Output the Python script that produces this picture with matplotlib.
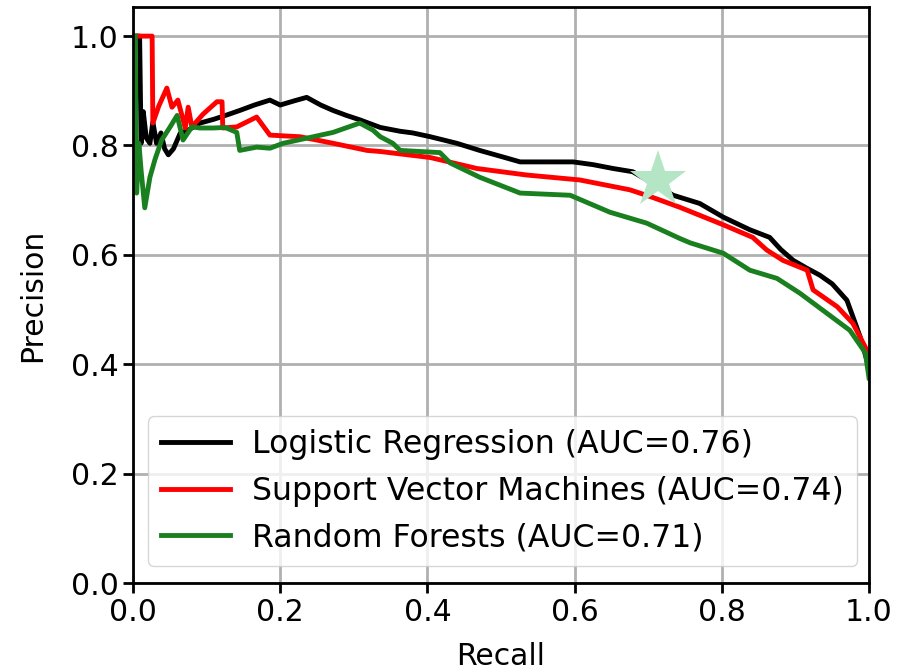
import numpy as np
import matplotlib
matplotlib.use('Agg')
import matplotlib.pyplot as plt

# Precision-recall points
lr_recall = [0.003, 0.009, 0.011, 0.014, 0.018, 0.023, 0.027, 0.032, 0.038, 0.043, 0.048, 0.055,
             0.064, 0.075, 0.091, 0.11, 0.13, 0.145, 0.165, 0.186, 0.2, 0.22, 0.236, 0.255, 0.272,
             0.29, 0.308, 0.336, 0.363, 0.38, 0.404, 0.44, 0.471, 0.5, 0.526, 0.56, 0.598, 0.625,
             0.652, 0.679, 0.71, 0.734, 0.77, 0.802, 0.838, 0.865, 0.88, 0.897, 0.915, 0.933, 0.95,
             0.970, 0.980, 0.988, 0.997, 1.0]
lr_precision = [1.0, 1.0, 0.804, 0.862, 0.814, 0.804, 0.843, 0.804, 0.823, 0.794, 0.783, 0.794,
                0.822, 0.828, 0.841, 0.848, 0.857, 0.864, 0.874, 0.883, 0.874, 0.882, 0.888, 0.874, 0.864,
                0.855, 0.847, 0.833, 0.826, 0.823, 0.816, 0.804, 0.791, 0.780, 0.770, 0.770, 0.770, 0.765,
                0.758, 0.752, 0.728, 0.709, 0.694, 0.669, 0.646, 0.632, 0.610, 0.590, 0.576, 0.563, 0.547,
                0.517, 0.480, 0.450, 0.408, 0.39]

svm_recall = [0.003, 0.026, 0.027, 0.035, 0.046, 0.053, 0.061, 0.071, 0.075, 0.080, 0.095, 0.114,
              0.121, 0.122, 0.141, 0.168, 0.186, 0.227, 0.272, 0.318, 0.336, 0.404, 0.467, 0.535,
              0.607, 0.675, 0.702, 0.743, 0.802, 0.842, 0.861, 0.883, 0.916, 0.924, 0.957, 0.978,
              0.997, 1.0]
svm_precision = [1.0, 1.0, 0.841, 0.872, 0.905, 0.870, 0.883, 0.832, 0.870, 0.834, 0.857, 0.880,
                 0.880, 0.832, 0.834, 0.852, 0.819, 0.816, 0.804, 0.791, 0.789, 0.778, 0.758, 0.746,
                 0.737, 0.719, 0.707, 0.687, 0.655, 0.632, 0.609, 0.590, 0.572, 0.536, 0.505, 0.475,
                 0.426, 0.395]

rf_recall = [0.003, 0.005, 0.008, 0.011, 0.016, 0.023, 0.03, 0.039, 0.05, 0.060, 0.068, 0.080,
             0.091, 0.109, 0.125, 0.141, 0.145, 0.168, 0.186, 0.204, 0.245, 0.272, 0.308, 0.326,
             0.336, 0.353, 0.363, 0.417, 0.431, 0.471, 0.526, 0.594, 0.648, 0.698, 0.743, 0.757,
             0.802, 0.838, 0.875, 0.906, 0.943, 0.974, 0.995, 1.0]
rf_precision = [1.0, 0.713, 0.804, 0.755, 0.686, 0.742, 0.775, 0.810, 0.833, 0.855, 0.810, 0.834,
                0.832, 0.832, 0.833, 0.824, 0.791, 0.797, 0.795, 0.804, 0.816, 0.824, 0.841, 0.828,
                0.816, 0.804, 0.791, 0.787, 0.768, 0.742, 0.713, 0.709, 0.678, 0.658, 0.630, 0.622,
                0.603, 0.572, 0.557, 0.530, 0.493, 0.462, 0.421, 0.375]

labels = ["Logistic Regression (AUC=0.76)",
          "Support Vector Machines (AUC=0.74)",
          "Random Forests (AUC=0.71)"]

# operating point marked with a star
star_recall, star_precision = 0.713, 0.736

fig = plt.figure(figsize=(9.09, 6.72), dpi=100)
ax = fig.add_axes([0.1463, 0.1324, 0.8097, 0.857])

ax.plot(lr_recall, lr_precision, color="black", lw=3.5, label=labels[0])
ax.plot(svm_recall, svm_precision, color="red", lw=3.5, label=labels[1])
ax.plot(rf_recall, rf_precision, color="#1a801f", lw=3.5, label=labels[2])
ax.plot([star_recall], [star_precision], marker="*", ms=43, color="#b4e6c6",
        markeredgewidth=0, linestyle="none", zorder=5)

ax.set_xlim(0, 1)
ax.set_ylim(0, 1.053)
ax.set_xticks(np.arange(0, 1.01, 0.2))
ax.set_yticks(np.arange(0, 1.01, 0.2))
ax.grid(color="#b0b0b0", lw=2)
ax.set_axisbelow(True)
for s in ax.spines.values():
    s.set_linewidth(2)
ax.tick_params(labelsize=21.5, width=2, length=7)
ax.set_xlabel("Recall", fontsize=21.5, labelpad=11)
ax.set_ylabel("Precision", fontsize=21.5, labelpad=17)

ax.legend(loc="lower left", bbox_to_anchor=(0.0204, 0.0295), borderaxespad=0,
          fontsize=22.7, framealpha=0.8, handlelength=2.2, labelspacing=0.49,
          borderpad=0.41, handletextpad=0.7)

fig.savefig("out.png", dpi=100)
